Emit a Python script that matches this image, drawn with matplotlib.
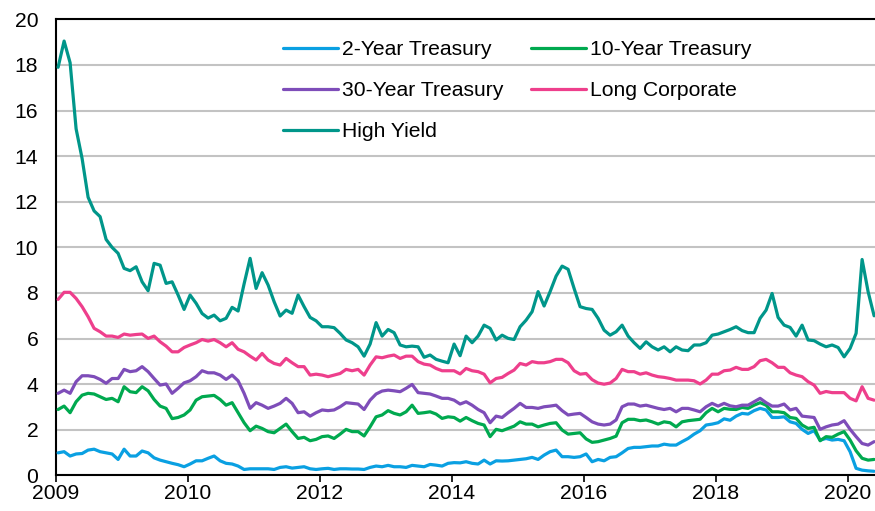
import numpy as np
import matplotlib
matplotlib.use("Agg")
import matplotlib.pyplot as plt

plt.rcParams['font.family'] = ['Liberation Sans', 'DejaVu Sans']

# Monthly yields (%), Jan 2009 .. May 2020
two_year = [0.99, 1.04, 0.85, 0.94, 0.96, 1.11, 1.15, 1.04, 0.99, 0.94, 0.70, 1.15, 0.85, 0.85, 1.07, 0.99, 0.77, 0.67, 0.60, 0.53, 0.47, 0.38,
            0.50, 0.64, 0.64, 0.75, 0.85, 0.64, 0.53, 0.50, 0.41, 0.26, 0.29, 0.29, 0.29, 0.29, 0.26, 0.35, 0.38, 0.32, 0.35, 0.38, 0.29, 0.26, 0.29,
            0.31, 0.26, 0.29, 0.29, 0.28, 0.28, 0.26, 0.35, 0.41, 0.38, 0.44, 0.38, 0.38, 0.35, 0.44, 0.41, 0.38, 0.48, 0.45, 0.41, 0.53, 0.56, 0.55,
            0.60, 0.53, 0.50, 0.67, 0.50, 0.64, 0.63, 0.64, 0.67, 0.70, 0.73, 0.79, 0.70, 0.89, 1.04, 1.11, 0.82, 0.82, 0.79, 0.82, 0.94, 0.60,
            0.70, 0.64, 0.79, 0.82, 0.99, 1.18, 1.23, 1.23, 1.26, 1.29, 1.29, 1.37, 1.33, 1.33, 1.48, 1.62, 1.81, 1.96, 2.21, 2.25, 2.31, 2.48, 2.42,
            2.60, 2.72, 2.69, 2.84, 2.94, 2.87, 2.54, 2.54, 2.57, 2.35, 2.28, 2.02, 1.84, 1.96, 1.55, 1.62, 1.55, 1.58, 1.52, 1.04, 0.31, 0.23, 0.20, 0.18]

ten_year = [2.89, 3.04, 2.75, 3.23, 3.52, 3.60, 3.57, 3.45, 3.33, 3.38, 3.23, 3.89, 3.67, 3.63, 3.89, 3.71, 3.33, 3.04, 2.94, 2.49, 2.54, 2.65, 2.87,
            3.30, 3.45, 3.48, 3.51, 3.33, 3.08, 3.19, 2.75, 2.31, 1.96, 2.16, 2.06, 1.92, 1.87, 2.06, 2.25, 1.92, 1.62, 1.67, 1.52, 1.58, 1.70,
            1.73, 1.62, 1.81, 2.02, 1.92, 1.92, 1.73, 2.13, 2.57, 2.65, 2.84, 2.72, 2.65, 2.79, 3.08, 2.72, 2.75, 2.79, 2.69, 2.50, 2.57, 2.54, 2.38,
            2.54, 2.40, 2.28, 2.21, 1.70, 2.02, 1.96, 2.06, 2.16, 2.35, 2.25, 2.25, 2.13, 2.21, 2.28, 2.31, 1.99, 1.81, 1.84, 1.87, 1.60, 1.45,
            1.48, 1.55, 1.62, 1.72, 2.31, 2.46, 2.46, 2.40, 2.43, 2.35, 2.25, 2.35, 2.31, 2.13, 2.35, 2.40, 2.43, 2.46, 2.75, 2.94, 2.79, 2.94, 2.90,
            2.89, 2.98, 2.94, 3.08, 3.19, 3.08, 2.79, 2.79, 2.75, 2.54, 2.50, 2.21, 2.06, 2.11, 1.52, 1.70, 1.67, 1.81, 1.92, 1.55, 1.08, 0.75, 0.67, 0.70]

thirty_year = [3.60, 3.74, 3.60, 4.11, 4.37, 4.37, 4.33, 4.21, 4.04, 4.25, 4.25, 4.65, 4.55, 4.59, 4.77, 4.55, 4.25, 3.96, 4.01, 3.60, 3.82, 4.06, 4.15,
               4.33, 4.59, 4.50, 4.50, 4.40, 4.21, 4.40, 4.15, 3.60, 2.94, 3.19, 3.08, 2.94, 3.04, 3.16, 3.38, 3.16, 2.75, 2.79, 2.60, 2.75, 2.87,
               2.84, 2.87, 3.01, 3.19, 3.16, 3.13, 2.89, 3.30, 3.57, 3.70, 3.74, 3.71, 3.67, 3.82, 3.99, 3.63, 3.60, 3.57, 3.48, 3.38, 3.38, 3.30, 3.13,
               3.23, 3.08, 2.89, 2.75, 2.31, 2.60, 2.54, 2.75, 2.94, 3.16, 2.98, 2.98, 2.94, 3.01, 3.04, 3.08, 2.84, 2.65, 2.69, 2.72, 2.54, 2.35,
               2.25, 2.21, 2.25, 2.43, 3.01, 3.13, 3.13, 3.04, 3.08, 3.01, 2.94, 2.89, 2.94, 2.79, 2.94, 2.94, 2.87, 2.79, 3.01, 3.16, 3.04, 3.16, 3.05,
               3.01, 3.08, 3.08, 3.23, 3.38, 3.19, 3.04, 3.04, 3.13, 2.87, 2.94, 2.60, 2.57, 2.54, 2.02, 2.13, 2.21, 2.25, 2.40, 2.02, 1.70, 1.40, 1.33, 1.48]

long_corp = [7.72, 8.03, 8.03, 7.76, 7.40, 6.96, 6.45, 6.30, 6.11, 6.11, 6.05, 6.20, 6.15, 6.18, 6.20, 6.01, 6.11, 5.86, 5.67, 5.42, 5.42, 5.61, 5.72,
             5.82, 5.96, 5.89, 5.96, 5.82, 5.64, 5.82, 5.53, 5.42, 5.23, 5.06, 5.35, 5.06, 4.91, 4.84, 5.13, 4.94, 4.77, 4.77, 4.40, 4.44, 4.40,
             4.33, 4.40, 4.47, 4.65, 4.59, 4.65, 4.40, 4.84, 5.20, 5.16, 5.23, 5.28, 5.13, 5.23, 5.23, 4.99, 4.88, 4.84, 4.69, 4.59, 4.59, 4.59, 4.45,
             4.69, 4.59, 4.55, 4.44, 4.06, 4.25, 4.30, 4.47, 4.62, 4.91, 4.84, 4.99, 4.94, 4.94, 4.99, 5.09, 5.09, 4.94, 4.59, 4.44, 4.47, 4.20,
             4.05, 4.00, 4.05, 4.25, 4.65, 4.55, 4.55, 4.44, 4.50, 4.40, 4.33, 4.30, 4.25, 4.18, 4.18, 4.18, 4.15, 4.01, 4.18, 4.44, 4.44, 4.59, 4.62,
             4.74, 4.65, 4.65, 4.77, 5.03, 5.09, 4.94, 4.74, 4.74, 4.50, 4.40, 4.33, 4.11, 3.96, 3.60, 3.68, 3.63, 3.63, 3.63, 3.38, 3.27, 3.89, 3.38, 3.30]

high_yield = [17.90, 19.05, 18.10, 15.20, 13.90, 12.20, 11.60, 11.35, 10.35, 10.00, 9.74, 9.08, 8.98, 9.15, 8.49, 8.10, 9.30, 9.22, 8.42, 8.49, 7.91, 7.28, 7.91,
              7.55, 7.10, 6.90, 7.03, 6.78, 6.89, 7.37, 7.21, 8.40, 9.52, 8.20, 8.89, 8.35, 7.62, 6.99, 7.25, 7.11, 7.91, 7.40, 6.93, 6.78, 6.52,
              6.52, 6.48, 6.23, 5.94, 5.82, 5.64, 5.23, 5.76, 6.70, 6.11, 6.40, 6.26, 5.72, 5.64, 5.67, 5.64, 5.18, 5.28, 5.09, 5.01, 4.94, 5.76, 5.25,
              6.11, 5.82, 6.11, 6.59, 6.45, 5.94, 6.15, 6.01, 5.96, 6.52, 6.81, 7.18, 8.06, 7.43, 8.06, 8.74, 9.18, 9.04, 8.20, 7.40, 7.32, 7.28,
              6.89, 6.37, 6.15, 6.30, 6.59, 6.11, 5.82, 5.57, 5.86, 5.64, 5.50, 5.64, 5.42, 5.64, 5.50, 5.47, 5.72, 5.72, 5.82, 6.15, 6.20, 6.30, 6.40,
              6.52, 6.35, 6.26, 6.26, 6.89, 7.25, 7.98, 6.93, 6.59, 6.49, 6.11, 6.59, 5.94, 5.91, 5.76, 5.64, 5.72, 5.61, 5.20, 5.57, 6.23, 9.47, 8.06, 7.00]

series_names = ["2-Year Treasury", "10-Year Treasury", "30-Year Treasury", "Long Corporate", "High Yield"]
tick_labels = ["2009", "2010", "2012", "2014", "2016", "2018", "2020"]
y_ticks = [0, 2, 4, 6, 8, 10, 12, 14, 16, 18, 20]

colors = {
    "2-Year Treasury": "#0AA0E2",
    "10-Year Treasury": "#00A94F",
    "30-Year Treasury": "#7E4DB9",
    "Long Corporate": "#EE3F8C",
    "High Yield": "#00968A",
}

n = len(two_year)
x = np.arange(n) + 0.4

fig = plt.figure(figsize=(8.75, 5.11), dpi=100)
ax = fig.add_axes([55.7 / 875, (511 - 475.4) / 511, 1 - 55.7 / 875, (475.4 - 19.4) / 511])

data = {
    "2-Year Treasury": two_year,
    "10-Year Treasury": ten_year,
    "30-Year Treasury": thirty_year,
    "Long Corporate": long_corp,
    "High Yield": high_yield,
}
handles = {}
for name in series_names:
    (h,) = ax.plot(x, data[name], color=colors[name], lw=2.3, solid_joinstyle='round', solid_capstyle='round', label=name, zorder=3)
    handles[name] = h

ax.set_ylim(0, 20)
ax.set_xlim(0, 136.55)
ax.set_yticks(y_ticks)
ax.set_yticklabels([str(v) for v in y_ticks])
ax.set_xticks([22 * k for k in range(len(tick_labels))])
ax.set_xticklabels(tick_labels)

ax.yaxis.grid(True, color="#C3C3C3", lw=1.5, zorder=1)
ax.set_axisbelow(True)
ax.tick_params(axis='y', length=0, pad=12.5, labelsize=15.2, colors='black')
ax.tick_params(axis='x', length=5, width=1.2, pad=1.5, labelsize=15.2, direction='out', colors='black')
for s in ["left", "bottom", "top"]:
    ax.spines[s].set_color("black")
    ax.spines[s].set_linewidth(1.5)
ax.spines["right"].set_visible(False)

order = ["2-Year Treasury", "30-Year Treasury", "High Yield", "10-Year Treasury", "Long Corporate"]
leg = ax.legend([handles[k] for k in order], order, ncol=2, loc='upper left',
                bbox_to_anchor=(283 / 875, 1 - 40 / 511), bbox_transform=fig.transFigure,
                frameon=False, fontsize=15.2, handlelength=2.6, handletextpad=0.2,
                columnspacing=1.3, labelspacing=1.05, borderpad=0, borderaxespad=0)

fig.savefig("out.png", dpi=100)
